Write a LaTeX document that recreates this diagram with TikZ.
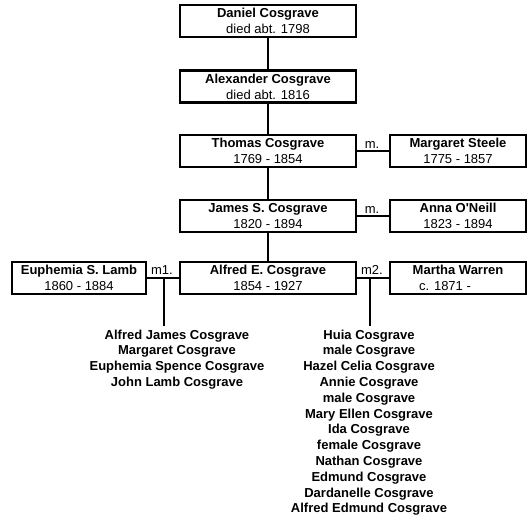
\documentclass[tikz,border=0pt]{standalone}
\usepackage{fontspec}
\setmainfont{Liberation Sans}[Ligatures=TeXOff]
\begin{document}
\begin{tikzpicture}[x=1pt,y=-1pt,
  every node/.style={font=\fontsize{13}{16}\selectfont},
  person/.style={draw, line width=2.7pt, inner sep=0pt, align=center, minimum height=32pt},
  mainbox/.style={person, minimum width=176pt},
  spousebox/.style={person, minimum width=136pt},
  conn/.style={line width=2.2pt},
  mlabel/.style={inner sep=0pt, anchor=base},
  kids/.style={align=center, inner sep=0pt, anchor=north, font=\bfseries\fontsize{13}{15.8}\selectfont}]
\useasboundingbox (0,0) rectangle (530,520);

\node[mainbox] (daniel) at (268,21) {\textbf{Daniel Cosgrave}\\died abt. 1798};
\node[mainbox] (alexander) at (268,86.5) {\textbf{Alexander Cosgrave}\\died abt. 1816};
\node[mainbox] (thomas) at (268,151) {\textbf{Thomas Cosgrave}\\1769 - 1854};
\node[mainbox] (james) at (268,216) {\textbf{James S. Cosgrave}\\1820 - 1894};
\node[mainbox] (alfred) at (268,278) {\textbf{Alfred E. Cosgrave}\\1854 - 1927};

\node[spousebox] (margaret) at (458,151) {\textbf{Margaret Steele}\\1775 - 1857};
\node[spousebox] (anna) at (458,216) {\textbf{Anna O'Neill}\\1823 - 1894};
\node[spousebox] (martha) at (458,278) {\textbf{Martha Warren}\\\hspace*{-26pt}c. 1871 -};
\node[spousebox, minimum width=134pt] (euphemia) at (79,278) {\textbf{Euphemia S. Lamb}\\1860 - 1884};

\draw[conn] (daniel) -- (alexander);
\draw[conn] (alexander) -- (thomas);
\draw[conn] (thomas) -- (james);
\draw[conn] (james) -- (alfred);
\draw[conn] (thomas) -- (margaret);
\draw[conn] (james) -- (anna);
\draw[conn] (euphemia) -- (alfred);
\draw[conn] (alfred) -- (martha);

\node[mlabel] (m0) at (372,148) {m.};
\node[mlabel] (m00) at (372,213) {m.};
\node[mlabel] (m1) at (162,274) {m1.};
\node[mlabel] (m2) at (372,274) {m2.};

\coordinate (j1) at (164,278);
\coordinate (e1) at (164,326);
\coordinate (j2) at (370,278);
\coordinate (e2) at (370,326);
\draw[conn] (j1) -- (e1);
\draw[conn] (j2) -- (e2);

\node[kids] (kids1) at (177,329.5) {Alfred James Cosgrave\\Margaret Cosgrave\\Euphemia Spence Cosgrave\\John Lamb Cosgrave};
\node[kids] (kids2) at (369,329.5) {Huia Cosgrave\\male Cosgrave\\Hazel Celia Cosgrave\\Annie Cosgrave\\male Cosgrave\\Mary Ellen Cosgrave\\Ida Cosgrave\\female Cosgrave\\Nathan Cosgrave\\Edmund Cosgrave\\Dardanelle Cosgrave\\Alfred Edmund Cosgrave};
\end{tikzpicture}
\end{document}
